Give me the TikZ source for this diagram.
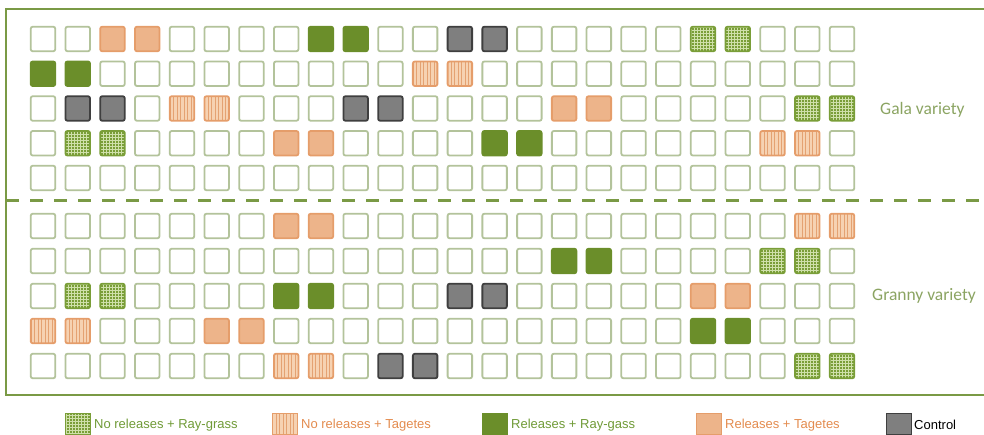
\documentclass[tikz,border=0pt]{standalone}
\usepackage{fontspec}
\setmainfont{Carlito}
\newfontfamily\legfont{Liberation Sans}
\definecolor{frameG}{HTML}{7A9A45}
\definecolor{emptyc}{HTML}{B3C39B}
\definecolor{greenS}{HTML}{6B8E2A}
\definecolor{gridG}{HTML}{7A9E38}
\definecolor{gridL}{HTML}{CFE0AA}
\definecolor{orangeF}{HTML}{EDB48A}
\definecolor{orangeB}{HTML}{E59D6A}
\definecolor{stripeF}{HTML}{F6D2B2}
\definecolor{stripeL}{HTML}{E4A272}
\definecolor{grayF}{HTML}{7F7F7F}
\definecolor{grayB}{HTML}{3F3F3F}
\definecolor{labelG}{HTML}{8BA462}
\definecolor{legG}{HTML}{6F9A36}
\definecolor{legO}{HTML}{E38B4E}
\tikzset{
  sq/.style={minimum width=24.5pt, minimum height=24.5pt, inner sep=0pt, rounded corners=2pt, line width=1.8pt},
  gridpat/.style={path picture={
      \foreach \k in {-12,-9,...,12}{
        \draw[gridL, line width=0.7pt] ([xshift=\k pt]path picture bounding box.north) -- ([xshift=\k pt]path picture bounding box.south);
        \draw[gridL, line width=0.7pt] ([yshift=\k pt]path picture bounding box.west) -- ([yshift=\k pt]path picture bounding box.east);
      }}},
  stripepat/.style={path picture={
      \foreach \k in {-12,-8.5,...,12}{
        \draw[stripeL, line width=0.9pt] ([xshift=\k pt]path picture bounding box.north) -- ([xshift=\k pt]path picture bounding box.south);
      }}},
  cell0/.style={sq, draw=emptyc, fill=white},
  cellA/.style={sq, draw=gridG, fill=gridG, gridpat},
  cellB/.style={sq, draw=orangeB, fill=stripeF, stripepat},
  cellC/.style={sq, draw=greenS, fill=greenS},
  cellD/.style={sq, draw=orangeB, fill=orangeF},
  cellE/.style={sq, draw=grayB, fill=grayF},
  legsq/.style={minimum width=25pt, minimum height=21pt, inner sep=0pt, line width=1pt},
  legtxt/.style={anchor=west, inner sep=0pt, font=\legfont\fontsize{13}{15}\selectfont},
  vartxt/.style={anchor=west, inner sep=0pt, text=labelG, font=\fontsize{17.5}{20}\selectfont},
  frame/.style={draw=frameG, line width=2.6pt},
  divider/.style={draw=frameG, line width=3pt, dash pattern=on 13pt off 11pt}
}
\begin{document}
\begin{tikzpicture}[x=1pt, y=-1pt]
\useasboundingbox (0,0) rectangle (984,435);
% frame and divider
\coordinate (ftr) at (990,9);
\coordinate (ftl) at (6,9);
\coordinate (fbl) at (6,395);
\coordinate (fbr) at (990,395);
\coordinate (dl) at (6,201);
\coordinate (dr) at (990,201);
\draw[frame] (ftr) -- (ftl) -- (fbl) -- (fbr);
\draw[divider] (dl) -- (dr);
% plots
\foreach \ry/\rlist [count=\r] in {
  39/{0,0,D,D,0,0,0,0,C,C,0,0,E,E,0,0,0,0,0,A,A,0,0,0},
  73.75/{C,C,0,0,0,0,0,0,0,0,0,B,B,0,0,0,0,0,0,0,0,0,0,0},
  108.5/{0,E,E,0,B,B,0,0,0,E,E,0,0,0,0,D,D,0,0,0,0,0,A,A},
  143.25/{0,A,A,0,0,0,0,D,D,0,0,0,0,C,C,0,0,0,0,0,0,B,B,0},
  178/{0,0,0,0,0,0,0,0,0,0,0,0,0,0,0,0,0,0,0,0,0,0,0,0},
  226/{0,0,0,0,0,0,0,D,D,0,0,0,0,0,0,0,0,0,0,0,0,0,B,B},
  261/{0,0,0,0,0,0,0,0,0,0,0,0,0,0,0,C,C,0,0,0,0,A,A,0},
  296/{0,A,A,0,0,0,0,C,C,0,0,0,E,E,0,0,0,0,0,D,D,0,0,0},
  331/{B,B,0,0,0,D,D,0,0,0,0,0,0,0,0,0,0,0,0,C,C,0,0,0},
  366/{0,0,0,0,0,0,0,B,B,0,E,E,0,0,0,0,0,0,0,0,0,0,A,A}} {
  \foreach \t [count=\c] in \rlist {
    \node[style/.expanded=cell\t] (c-\r-\c) at ({43+(\c-1)*34.74}, \ry) {};
  }
}
% variety labels
\node[vartxt] (gala) at (880,110) {Gala variety};
\node[vartxt] (granny) at (872,296) {Granny variety};
% legend
\node[legsq, draw=gridG, fill=gridG, gridpat] (lg1) at (78,424) {};
\node[legtxt, text=legG] (lt1) at (94,425) {No releases + Ray-grass};
\node[legsq, draw=orangeB, fill=stripeF, stripepat] (lg2) at (284.5,424) {};
\node[legtxt, text=legO] (lt2) at (301,425) {No releases + Tagetes};
\node[legsq, draw=greenS, fill=greenS] (lg3) at (494.5,424) {};
\node[legtxt, text=legG] (lt3) at (511,425) {Releases + Ray-gass};
\node[legsq, draw=orangeB, fill=orangeF] (lg4) at (708.5,424) {};
\node[legtxt, text=legO] (lt4) at (725,425) {Releases + Tagetes};
\node[legsq, draw=grayB, fill=grayF] (lg5) at (899,424) {};
\node[legtxt, text=black] (lt5) at (914,425) {Control};
\end{tikzpicture}
\end{document}
